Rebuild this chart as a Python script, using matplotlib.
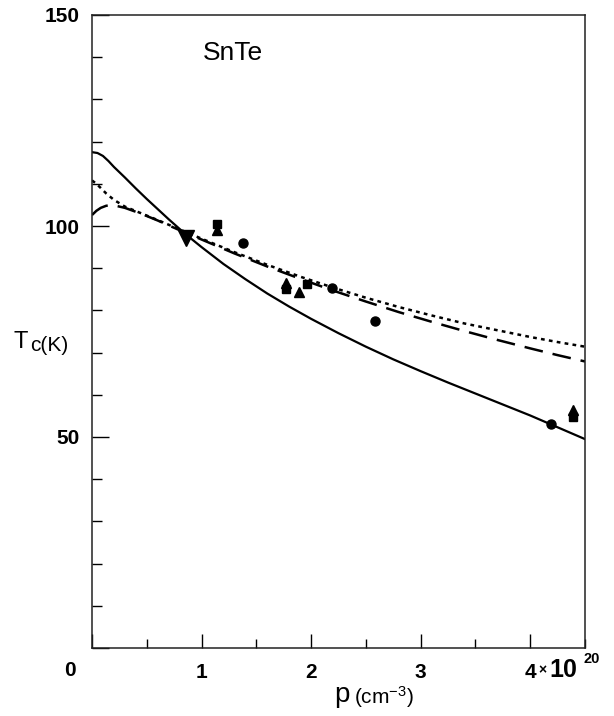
import numpy as np
import matplotlib.pyplot as plt
from matplotlib.ticker import MultipleLocator

plt.rcParams['font.family'] = ['Liberation Sans', 'DejaVu Sans']
plt.rcParams['mathtext.fontset'] = 'custom'
plt.rcParams['mathtext.rm'] = 'Liberation Sans'
plt.rcParams['mathtext.it'] = 'Liberation Sans'

# curves (p in 1e20 cm^-3, Tc in K)
p_solid = [0, 0.05, 0.1, 0.15, 0.2, 0.3, 0.4, 0.5, 0.6, 0.7, 0.8, 0.9, 1.0, 1.2, 1.4, 1.6,
           1.8, 2.0, 2.25, 2.5, 2.75, 3.0, 3.25, 3.5, 3.75, 4.0, 4.25, 4.5]
t_solid = [117.5, 117.3, 116.6, 115.4, 114.0, 111.5, 108.9, 106.4, 104.0, 101.6, 99.3, 97.1,
           95.0, 91.0, 87.4, 84.0, 80.9, 78.0, 74.6, 71.4, 68.4, 65.6, 62.9, 60.3, 57.7,
           55.1, 52.3, 49.5]

p_dash = [0, 0.04, 0.08, 0.13, 0.2, 0.3, 0.45, 0.6, 0.8, 1.0, 1.3, 1.6, 1.9, 2.2, 2.5,
          2.8, 3.1, 3.4, 3.7, 4.0, 4.25, 4.5]
t_dash = [102.6, 103.6, 104.3, 104.8, 104.9, 104.3, 102.9, 101.3, 99.0, 96.8, 93.5, 90.4,
          87.5, 84.7, 82.1, 79.6, 77.3, 75.1, 73.0, 71.0, 69.4, 67.9]

p_dot = [0, 0.04, 0.08, 0.13, 0.2, 0.3, 0.45, 0.6, 0.8, 1.0, 1.3, 1.6, 1.9, 2.2, 2.5,
         2.8, 3.1, 3.4, 3.7, 4.0, 4.25, 4.5]
t_dot = [110.8, 110.0, 109.0, 107.7, 106.2, 104.6, 103.0, 101.4, 99.2, 97.0, 93.8, 90.8,
         88.0, 85.4, 83.0, 80.8, 78.8, 76.9, 75.3, 73.7, 72.5, 71.4]

# measured points
p_circ = [1.38, 2.19, 2.58, 4.19]
t_circ = [96, 85.3, 77.5, 53]
p_sq = [1.14, 1.77, 1.96, 4.39]
t_sq = [100.4, 85, 86.3, 54.7]
p_tri = [1.14, 1.77, 1.89, 4.39]
t_tri = [99, 86.5, 84.4, 56.4]
p_inv = [0.86]
t_inv = [97.2]

W, H = 614, 716
fig = plt.figure(figsize=(W / 100, H / 100), dpi=100)
ax = fig.add_axes([92 / W, 1 - 648 / H, (585 - 92) / W, (648 - 15) / H])


def px(x, y):
    return x / W, 1 - y / H


ax.plot(p_solid, t_solid, color='black', lw=1.6)
ax.plot(p_dash, t_dash, color='black', lw=1.8, dashes=(7.5, 4))
ax.plot(p_dot, t_dot, color='black', lw=1.8, dashes=(1.5, 1.7))

ax.plot(p_circ, t_circ, 'o', color='black', ms=6.5)
ax.plot(p_sq, t_sq, 's', color='black', ms=5.5)
ax.plot(p_tri, t_tri, '^', color='black', ms=6.5)
ax.plot(p_inv, t_inv, 'v', color='black', ms=11)

ax.set_xlim(0, 4.5)
ax.set_ylim(0, 150)

ax.xaxis.set_major_locator(MultipleLocator(1))
ax.xaxis.set_minor_locator(MultipleLocator(0.5))
ax.yaxis.set_major_locator(MultipleLocator(50))
ax.yaxis.set_minor_locator(MultipleLocator(10))

ax.tick_params(axis='both', which='both', direction='in', top=False, right=False,
               width=1, color='black')
ax.tick_params(axis='x', which='major', length=10, pad=11, labelsize=15)
ax.tick_params(axis='x', which='minor', length=6.5)
ax.tick_params(axis='y', which='major', length=12, pad=9, labelsize=15)
ax.tick_params(axis='y', which='minor', length=7)

ax.set_xticks([0, 1, 2, 3, 4])
ax.set_xticklabels(['', '1', '2', '3', '4'], fontweight='bold')
ax.set_yticks([0, 50, 100, 150])
ax.set_yticklabels(['', '50', '100', '150'], fontweight='bold')

for s in ax.spines.values():
    s.set_linewidth(1.1)
    s.set_color('#222222')

# origin label
fig.text(*px(70, 676), '0', fontsize=15, fontweight='bold', ha='center', va='baseline')

# exponent on last x tick
fig.text(*px(542, 670), '\u00d7', fontsize=10, fontweight='bold', ha='center', va='center')
fig.text(*px(549, 677), '10', fontsize=18, fontweight='bold', ha='left', va='baseline')
fig.text(*px(583, 663), '20', fontsize=10.5, fontweight='bold', ha='left', va='baseline')

# axis labels
fig.text(*px(14, 348), 'T', fontsize=17, ha='left', va='baseline')
fig.text(*px(30, 351), 'c(K)', fontsize=15, ha='left', va='baseline')
fig.text(*px(334, 702), 'p', fontsize=20, ha='left', va='baseline')
fig.text(*px(354, 704), '(cm$^{-3}$)', fontsize=15, ha='left', va='baseline')

ax.text(*px(203, 60), 'SnTe', transform=fig.transFigure, fontsize=19, ha='left', va='baseline')

fig.savefig('out.png', dpi=100)
